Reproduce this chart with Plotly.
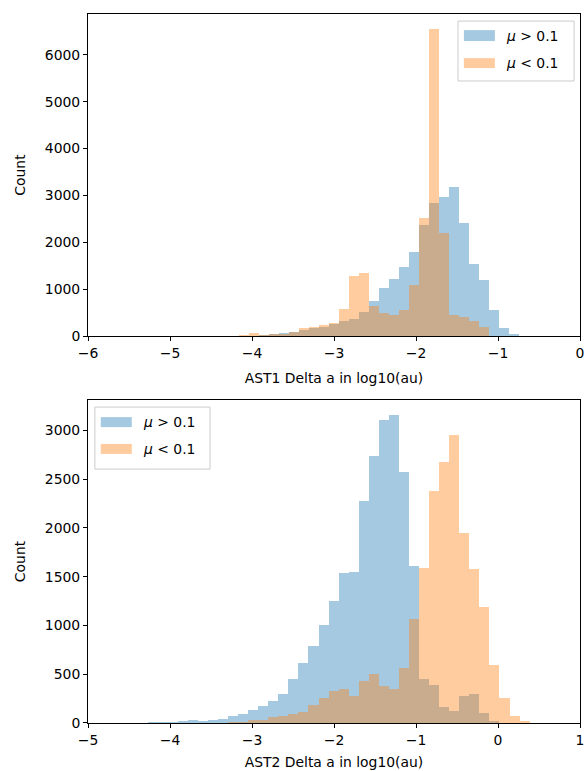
import numpy as np
import plotly.graph_objects as go
from plotly.subplots import make_subplots

# ---------------- data ----------------
# Top panel (AST1): histogram bins, common to both series
top_first_edge = -4.163
top_bin_width = 0.1222
top_mu_gt = [0, 5, 15, 40, 70, 92, 127, 170, 198, 248, 311, 361, 506, 750, 1022,
             1224, 1472, 1790, 2378, 2838, 2958, 3185, 2406, 1543, 1203, 552, 177, 35]
top_mu_lt = [20, 70, 14, 40, 50, 92, 163, 191, 240, 283, 573, 1281, 1338, 644, 490,
             446, 566, 1083, 2512, 6546, 2201, 446, 396, 318, 198, 7, 0, 0]

# Bottom panel (AST2)
bot_first_edge = -4.518
bot_bin_width = 0.1226
bot_mu_gt = [2, 3, 7, 7, 10, 17, 27, 24, 27, 44, 72, 92, 130, 178, 226, 294, 452, 612,
             787, 1009, 1249, 1543, 1554, 2279, 2741, 3107, 3155, 2573, 1615, 455, 394,
             164, 123, 274, 301, 99, 17, 0, 0, 0]
bot_mu_lt = [0, 0, 0, 0, 0, 0, 0, 0, 3, 5, 7, 10, 27, 34, 58, 68, 90, 115, 187, 253,
             325, 346, 277, 428, 500, 383, 346, 565, 1071, 1591, 2378, 2673, 2957, 1951,
             1578, 1191, 599, 257, 68, 17]

labels = ["<i>μ</i> > 0.1", "<i>μ</i> < 0.1"]
x_titles = ["AST1 Delta a in log10(au)", "AST2 Delta a in log10(au)"]
y_title = "Count"

BLUE = "rgba(31,119,180,0.4)"
ORANGE = "rgba(255,127,14,0.4)"
FONT = "DejaVu Sans"
FS = 13.9


def centers(first, width, n):
    return first + width * (np.arange(n) + 0.5)


fig = make_subplots(rows=2, cols=1, vertical_spacing=0.0898)

panels = [
    (top_first_edge, top_bin_width, top_mu_gt, top_mu_lt),
    (bot_first_edge, bot_bin_width, bot_mu_gt, bot_mu_lt),
]
for i, (first, w, gt, lt) in enumerate(panels, start=1):
    xc = centers(first, w, len(gt))
    fig.add_trace(go.Bar(x=xc, y=gt, width=w, marker=dict(color=BLUE, line=dict(width=0)),
                         name=labels[0], showlegend=False), row=i, col=1)
    fig.add_trace(go.Bar(x=xc, y=lt, width=w, marker=dict(color=ORANGE, line=dict(width=0)),
                         name=labels[1], showlegend=False), row=i, col=1)

axis_common = dict(showline=True, linecolor="black", linewidth=1, mirror=True,
                   ticks="outside", ticklen=4, tickwidth=1, tickcolor="black",
                   showgrid=False, zeroline=False, automargin=False,
                   tickfont=dict(family=FONT, size=FS, color="black"))

fig.update_xaxes(range=[-6, 0], dtick=1, tick0=0, row=1, col=1,
                 title=dict(text=x_titles[0], standoff=13,
                            font=dict(family=FONT, size=FS, color="black")), **axis_common)
fig.update_xaxes(range=[-5, 1], dtick=1, tick0=0, row=2, col=1,
                 title=dict(text=x_titles[1], standoff=10,
                            font=dict(family=FONT, size=FS, color="black")), **axis_common)
fig.update_yaxes(range=[0, 6873], dtick=1000, row=1, col=1,
                 title=dict(text=y_title, standoff=15,
                            font=dict(family=FONT, size=FS, color="black")), **axis_common)
fig.update_yaxes(range=[0, 3313], dtick=500, row=2, col=1,
                 title=dict(text=y_title, standoff=15,
                            font=dict(family=FONT, size=FS, color="black")), **axis_common)

fig.update_layout(
    width=587, height=771,
    margin=dict(l=88, r=7, t=14, b=48, autoexpand=False),
    barmode="overlay", bargap=0,
    plot_bgcolor="white", paper_bgcolor="white",
    font=dict(family=FONT, size=FS, color="black"),
    showlegend=False,
)
fig.layout.yaxis.domain = [0.5458, 1.0]
fig.layout.yaxis2.domain = [0.0, 0.4556]

# ---- matplotlib-style legends (box, patches and text in axis-domain coords) ----
def add_legend(xa, ya, box, patch_x, patch_ys, text_x, text_ys):
    xr, yr = xa + " domain", ya + " domain"
    fig.add_shape(type="rect", xref=xr, yref=yr, x0=box[0], x1=box[1], y0=box[2], y1=box[3],
                  line=dict(color="#cccccc", width=1), fillcolor="rgba(255,255,255,0.8)",
                  layer="above")
    for (y0, y1), col in zip(patch_ys, [BLUE, ORANGE]):
        fig.add_shape(type="rect", xref=xr, yref=yr, x0=patch_x[0], x1=patch_x[1],
                      y0=y0, y1=y1, line=dict(width=0), fillcolor=col, layer="above")
    for ty, lab in zip(text_ys, labels):
        fig.add_annotation(xref=xr, yref=yr, x=text_x, y=ty, text=lab, showarrow=False,
                           xanchor="left", yanchor="middle",
                           font=dict(family=FONT, size=FS, color="black"))

add_legend("x", "y", box=(0.752, 0.988, 0.792, 0.978), patch_x=(0.764, 0.827),
           patch_ys=[(0.916, 0.950), (0.832, 0.863)], text_x=0.846, text_ys=[0.932, 0.848])
add_legend("x2", "y2", box=(0.014, 0.248, 0.786, 0.978), patch_x=(0.026, 0.089),
           patch_ys=[(0.916, 0.947), (0.833, 0.864)], text_x=0.108, text_ys=[0.932, 0.848])

fig.write_html("out.html", config={"displayModeBar": False},
               post_script="document.body.style.margin='0px';document.body.style.overflow='hidden';")
